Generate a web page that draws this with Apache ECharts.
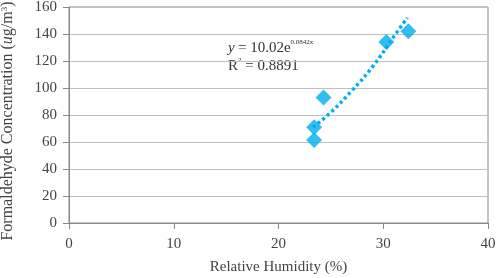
<!DOCTYPE html>
<html>
<head>
<meta charset="utf-8">
<script src="https://cdn.jsdelivr.net/npm/echarts@6/dist/echarts.min.js"></script>
<style>
  html, body { margin: 0; padding: 0; background: #fff; }
  #chart { width: 498px; height: 278px; }
</style>
</head>
<body>
<div id="chart"></div>
<script>
// measured points (relative humidity %, formaldehyde ug/m3)
var humidity = [23.4, 23.4, 24.3, 30.3, 32.4];
var formaldehyde = [61.5, 71, 93, 134, 142];

// exponential trendline
var trendX = [23.3, 25, 27, 29, 31, 32.3];
var trendY = [71, 82, 98, 116, 138, 152];

var xTicks = [0, 10, 20, 30, 40];
var yTicks = [0, 20, 40, 60, 80, 100, 120, 140, 160];

var chartDom = document.getElementById('chart');
var myChart = echarts.init(chartDom);

var pts = humidity.map(function (h, i) { return [h, formaldehyde[i]]; });
var trend = trendX.map(function (h, i) { return [h, trendY[i]]; });

var font = 'Liberation Serif';
var txt = '#444';

var option = {
  animation: false,
  grid: {
    left: 69, right: 10, top: 7, bottom: 55, outerBoundsMode: 'none',
    show: true, borderColor: '#888', borderWidth: 1
  },
  xAxis: {
    type: 'value', min: 0, max: 40, interval: 10,
    name: 'Relative Humidity (%)', nameLocation: 'middle', nameGap: 37,
    nameTextStyle: { fontFamily: font, fontSize: 15, color: txt },
    axisLine: { show: true, lineStyle: { color: '#888' } },
    axisTick: { show: true, inside: false, length: 6, lineStyle: { color: '#888' } },
    axisLabel: { fontFamily: font, fontSize: 15, color: txt, margin: 14 },
    splitLine: { show: false }
  },
  yAxis: {
    type: 'value', min: 0, max: 160, interval: 20,
    name: '{n|Formaldehyde Concentration (}{i|u}{n|g/m}{s|3}{n|)}',
    nameLocation: 'middle', nameGap: 53, nameRotate: 90,
    nameTextStyle: {
      fontFamily: font, fontSize: 16, color: txt,
      padding: [0, 12, 0, 0],
      rich: {
        n: { fontFamily: font, fontSize: 16, color: txt },
        i: { fontFamily: font, fontSize: 16, color: txt, fontStyle: 'italic' },
        s: { fontFamily: font, fontSize: 9, color: txt, verticalAlign: 'top', padding: [0, 0, 7, 0] }
      }
    },
    axisLine: { show: true, lineStyle: { color: '#888' } },
    axisTick: { show: true, inside: false, length: 6, lineStyle: { color: '#888' } },
    axisLabel: { fontFamily: font, fontSize: 15, color: txt, margin: 12 },
    splitLine: { show: true, lineStyle: { color: '#c0c0c0', width: 1 } }
  },
  graphic: [{
    type: 'text', left: 228, top: 39,
    style: {
      text: '{i|y} {n|= 10.02e}{s|0.0842x}\n{n|R}{s|2}{n| = 0.8891}',
      rich: {
        n: { fontFamily: font, fontSize: 15, fill: '#333' },
        i: { fontFamily: font, fontSize: 15, fill: '#333', fontStyle: 'italic' },
        s: { fontFamily: font, fontSize: 7, fill: '#333', verticalAlign: 'top', padding: [0, 0, 9, 0] }
      },
      lineHeight: 18
    }
  }],
  series: [
    {
      type: 'line', data: trend, smooth: true, symbol: 'none',
      lineStyle: { color: '#00b0ec', width: 3.5, type: [3, 3] },
      z: 2
    },
    {
      type: 'scatter', data: pts, symbol: 'diamond', symbolSize: 16,
      itemStyle: { color: '#00aeee' },
      z: 3
    }
  ]
};

myChart.setOption(option);
</script>
</body>
</html>
